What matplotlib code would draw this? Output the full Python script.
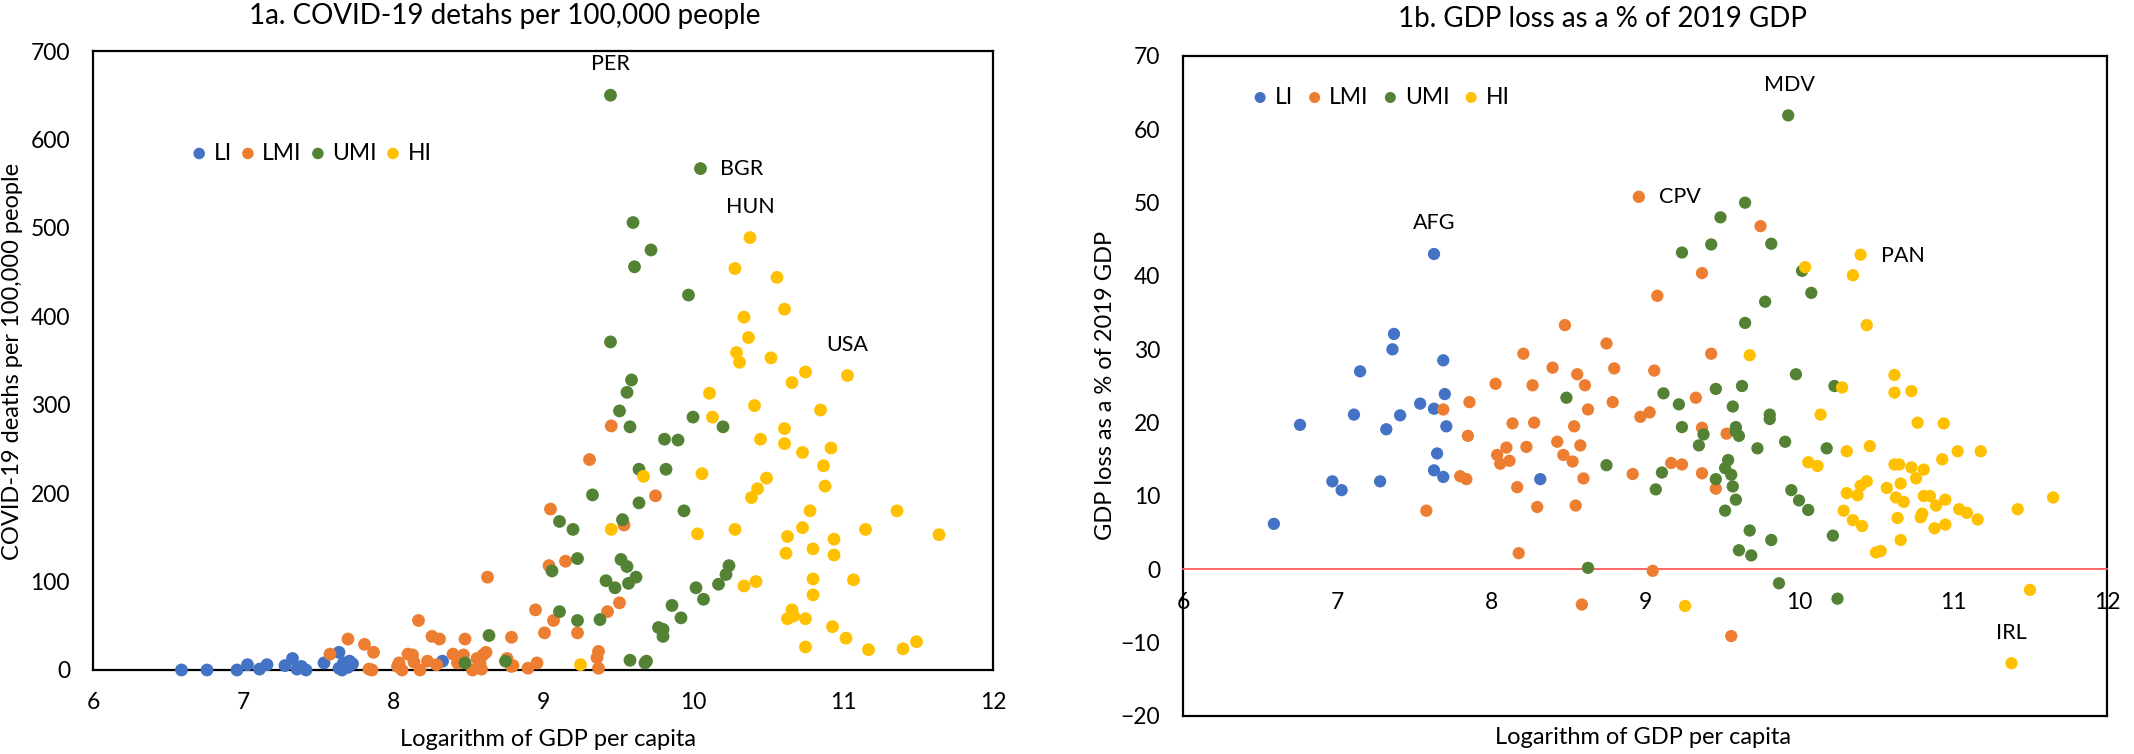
import matplotlib
matplotlib.use("Agg")
import matplotlib.pyplot as plt

plt.rcParams['font.family'] = ['Lato', 'DejaVu Sans']

# ---- 1a: COVID-19 deaths per 100,000 people vs log GDP per capita ----
a_li_x = [6.59, 6.76, 6.96, 7.03, 7.11, 7.16, 7.28, 7.33, 7.36, 7.39, 7.42, 7.54, 7.64, 7.64, 7.66, 7.67, 7.70, 7.71, 7.73, 8.33]
a_li_y = [0, 0, 0, 6, 1, 6, 5, 13, 1, 4, 0, 8, 20, 2, 0, 8, 3, 10, 7, 10]

a_lmi_x = [7.58, 7.70, 7.81, 7.84, 7.86, 7.87, 8.03, 8.04, 8.06, 8.10, 8.13, 8.14, 8.17, 8.18, 8.23, 8.26, 8.29, 8.31,
           8.40, 8.43, 8.47, 8.48, 8.53, 8.56, 8.58, 8.59, 8.60, 8.62, 8.63, 8.76, 8.79, 8.80, 8.79, 8.90, 8.96, 8.95,
           9.01, 9.04, 9.05, 9.07, 9.15, 9.23, 9.31, 9.36, 9.37, 9.37, 9.43, 9.455, 9.51, 9.54, 9.75]
a_lmi_y = [18, 35, 29, 1, 0, 20, 4, 8, 0, 18, 17, 9, 56, 0, 10, 38, 6, 35,
           18, 8, 17, 35, 0, 13, 8, 1, 17, 20, 105, 13, 37, 5, 4, 2, 8, 68,
           42, 118, 182, 56, 123, 42, 238, 14, 21, 2, 66, 276, 76, 164, 197]

a_umi_x = [8.48, 8.64, 8.75, 9.06, 9.11, 9.11, 9.20, 9.23, 9.23, 9.33, 9.38, 9.42, 9.45, 9.45, 9.48, 9.51, 9.52, 9.53,
           9.56, 9.56, 9.57, 9.58, 9.58, 9.59, 9.60, 9.61, 9.62, 9.64, 9.64, 9.68, 9.69, 9.72, 9.77, 9.80, 9.80, 9.81,
           9.82, 9.86, 9.90, 9.92, 9.94, 9.97, 10.00, 10.02, 10.05, 10.07, 10.17, 10.20, 10.22, 10.24]
a_umi_y = [8, 39, 10, 112, 168, 66, 159, 126, 56, 198, 57, 101, 650, 371, 93, 293, 125, 170,
           314, 117, 98, 275, 11, 328, 506, 456, 105, 227, 189, 8, 10, 475, 48, 46, 38, 261,
           227, 73, 260, 59, 180, 424, 286, 93, 567, 80, 97, 275, 108, 118]

a_hi_x = [9.25, 9.455, 9.67, 10.03, 10.06, 10.11, 10.13, 10.28, 10.28, 10.29, 10.31, 10.34, 10.34, 10.37, 10.38,
          10.39, 10.41, 10.42, 10.43, 10.45, 10.49, 10.52, 10.56, 10.61, 10.61, 10.61, 10.62, 10.63, 10.63, 10.66,
          10.66, 10.67, 10.73, 10.73, 10.75, 10.75, 10.75, 10.78, 10.80, 10.80, 10.80, 10.85, 10.87, 10.88, 10.92,
          10.93, 10.94, 10.94, 11.02, 11.03, 11.07, 11.15, 11.17, 11.36, 11.40, 11.49, 11.64]
a_hi_y = [6, 159, 219, 154, 222, 313, 286, 159, 454, 359, 348, 95, 399, 376, 489,
          195, 299, 100, 205, 261, 217, 353, 444, 408, 273, 256, 132, 151, 58, 325,
          68, 61, 246, 161, 337, 58, 26, 180, 137, 103, 85, 294, 231, 208, 251,
          49, 148, 130, 36, 333, 102, 159, 23, 180, 24, 32, 153]

a_labels = ["PER", "BGR", "HUN", "USA"]
a_label_x = [9.45, 10.18, 10.38, 11.03]
a_label_y = [685, 567, 524, 368]
a_label_ha = ["center", "left", "center", "center"]

# ---- 1b: GDP loss as a % of 2019 GDP vs log GDP per capita ----
b_li_x = [6.59, 6.76, 6.97, 7.03, 7.11, 7.15, 7.28, 7.32, 7.36, 7.37, 7.41, 7.54, 7.63, 7.63, 7.70, 7.71, 7.65,
          7.63, 7.69, 7.69, 8.32]
b_li_y = [6.2, 19.7, 12.0, 10.8, 21.1, 27.0, 12.0, 19.1, 30.0, 32.1, 21.0, 22.6, 21.9, 43.0, 23.9, 19.5, 15.8,
          13.5, 12.6, 28.5, 12.3]

b_lmi_x = [7.58, 7.69, 7.80, 7.84, 7.86, 7.85, 8.03, 8.04, 8.06, 8.10, 8.12, 8.14, 8.17, 8.18, 8.21, 8.23, 8.27,
           8.28, 8.30, 8.40, 8.43, 8.47, 8.48, 8.53, 8.54, 8.56, 8.58, 8.60, 8.55, 8.59, 8.61, 8.63, 8.75, 8.79,
           8.80, 8.92, 8.96, 8.97, 9.03, 9.05, 9.06, 9.08, 9.17, 9.24, 9.33, 9.37, 9.37, 9.37, 9.43, 9.46, 9.53,
           9.56, 9.75]
b_lmi_y = [8.0, 21.8, 12.7, 12.3, 22.8, 18.2, 25.3, 15.6, 14.4, 16.6, 14.8, 19.9, 11.2, 2.2, 29.4, 16.7, 25.1,
           20.0, 8.5, 27.5, 17.4, 15.6, 33.3, 14.7, 19.5, 26.6, 16.9, 12.4, 8.7, -4.8, 25.1, 21.8, 30.8, 22.8,
           27.4, 13.0, 50.8, 20.8, 21.4, -0.2, 27.1, 37.3, 14.5, 14.3, 23.4, 40.4, 19.3, 13.1, 29.4, 11.0, 18.5,
           -9.1, 46.8]

b_umi_x = [8.49, 8.63, 8.75, 9.07, 9.11, 9.12, 9.22, 9.24, 9.24, 9.35, 9.38, 9.43, 9.46, 9.46, 9.49, 9.52, 9.52,
           9.54, 9.56, 9.57, 9.57, 9.59, 9.59, 9.59, 9.61, 9.61, 9.63, 9.65, 9.65, 9.68, 9.69, 9.73, 9.78, 9.81,
           9.81, 9.82, 9.82, 9.87, 9.91, 9.93, 9.95, 9.98, 10.00, 10.02, 10.06, 10.08, 10.18, 10.22, 10.23, 10.25]
b_umi_y = [23.4, 0.2, 14.2, 10.9, 13.2, 24.0, 22.5, 19.4, 43.2, 16.9, 18.4, 44.3, 24.6, 12.3, 48.0, 13.8, 8.0,
           14.9, 12.9, 11.3, 22.2, 19.4, 18.8, 9.5, 18.2, 2.6, 25.0, 50.0, 33.6, 5.3, 1.9, 16.5, 36.5, 21.1,
           20.5, 44.4, 4.0, -1.9, 17.4, 61.9, 10.8, 26.6, 9.4, 40.7, 8.1, 37.7, 16.5, 4.6, 25.0, -4.0]

b_hi_x = [9.26, 9.68, 10.04, 10.06, 10.12, 10.14, 10.28, 10.29, 10.31, 10.31, 10.35, 10.35, 10.38, 10.40, 10.40,
          10.41, 10.44, 10.44, 10.46, 10.50, 10.53, 10.57, 10.62, 10.62, 10.62, 10.63, 10.64, 10.65, 10.66, 10.66,
          10.68, 10.73, 10.73, 10.76, 10.77, 10.79, 10.80, 10.81, 10.81, 10.85, 10.88, 10.89, 10.93, 10.94, 10.95,
          10.95, 11.03, 11.04, 11.09, 11.16, 11.18, 11.38, 11.42, 11.50, 11.65]
b_hi_y = [-5.0, 29.2, 41.2, 14.6, 14.1, 21.1, 24.8, 8.0, 16.1, 10.4, 40.1, 6.7, 10.1, 42.9, 11.4,
          5.9, 33.3, 12.0, 16.8, 2.3, 2.5, 11.1, 26.5, 24.1, 14.3, 9.8, 7.0, 14.3, 11.7, 4.0,
          9.2, 24.3, 13.9, 12.4, 20.0, 7.1, 7.6, 13.6, 10.0, 10.0, 5.6, 8.7, 15.0, 19.9, 9.5,
          6.1, 16.1, 8.2, 7.7, 6.8, 16.1, -12.8, 8.2, -2.8, 9.8]

b_labels = ["AFG", "CPV", "MDV", "PAN", "IRL"]
b_label_x = [7.63, 9.09, 9.94, 10.53, 11.38]
b_label_y = [47.2, 50.8, 66.0, 42.7, -8.7]
b_label_ha = ["center", "left", "center", "left", "center"]

groups = ["LI", "LMI", "UMI", "HI"]
colores = ["#4472C4", "#ED7D31", "#548235", "#FFC000"]

W, H = 2134, 754
fig = plt.figure(figsize=(W / 100, H / 100), dpi=100)

# ejes colocados en pixeles del original
ax1 = fig.add_axes([93 / W, 1 - 670 / H, 900 / W, 619 / H])
ax2 = fig.add_axes([1183 / W, 1 - 716 / H, 924 / W, 660 / H])

TICK = 16.5
LAB = 17
ANOT = 15.5
LEG = 16.5
TIT = 20


def leyenda(ax, x_px, y_px, espacio):
    # leyenda horizontal sin marco, anclada por su borde izquierdo
    ax.legend(loc='center left', bbox_to_anchor=(x_px / W, 1 - y_px / H), bbox_transform=fig.transFigure,
              ncol=4, frameon=False, fontsize=LEG, markerscale=0.9, handlelength=0.8,
              handletextpad=0.23, columnspacing=espacio, borderpad=0, borderaxespad=0)


def marco(ax):
    for sp in ax.spines.values():
        sp.set_linewidth(1.6)
        sp.set_color('black')


# --- panel izquierdo ---
serie_a = [(a_li_x, a_li_y), (a_lmi_x, a_lmi_y), (a_umi_x, a_umi_y), (a_hi_x, a_hi_y)]
for (xs, ys), nombre, c in zip(serie_a, groups, colores):
    ax1.scatter(xs, ys, s=85, color=c, edgecolors='none', label=nombre, zorder=3, clip_on=False)

ax1.set_xlim(6, 12)
ax1.set_ylim(0, 700)
ax1.set_xticks(range(6, 13))
ax1.set_yticks(range(0, 701, 100))
ax1.tick_params(length=0, labelsize=TICK)
ax1.tick_params(axis='x', pad=16)
ax1.tick_params(axis='y', pad=16.5)
marco(ax1)
fig.text(548 / W, 1 - 739 / H, "Logarithm of GDP per capita", fontsize=LAB, ha='center', va='center')
fig.text(13 / W, 1 - 361 / H, "COVID-19 deaths per 100,000 people", fontsize=LAB, ha='center', va='center',
         rotation=90)
for t, x, y, ha in zip(a_labels, a_label_x, a_label_y, a_label_ha):
    ax1.text(x, y, t, fontsize=ANOT, ha=ha, va='center')
leyenda(ax1, 190, 153, 0.3)

# --- panel derecho ---
serie_b = [(b_li_x, b_li_y), (b_lmi_x, b_lmi_y), (b_umi_x, b_umi_y), (b_hi_x, b_hi_y)]
for (xs, ys), nombre, c in zip(serie_b, groups, colores):
    ax2.scatter(xs, ys, s=78, color=c, edgecolors='none', label=nombre, zorder=3)

ax2.set_xlim(6, 12)
ax2.set_ylim(-20, 70)
ax2.set_xticks(range(6, 13))
ax2.set_yticks(range(-20, 71, 10))
ax2.tick_params(length=0, labelsize=TICK)
ax2.tick_params(axis='x', pad=16)
ax2.tick_params(axis='y', pad=16.5)
marco(ax2)
# eje x cruzando en cero, en rojo; el marco inferior queda en -20
ax2.spines['bottom'].set_position(('data', 0))
ax2.spines['bottom'].set_color('#FF5B5B')
ax2.spines['bottom'].set_linewidth(1.3)
ax2.axhline(-20, color='black', lw=1.6, zorder=4, clip_on=False)
fig.text(1106 / W, 1 - 385 / H, "GDP loss as a % of 2019 GDP", fontsize=LAB, ha='center', va='center',
         rotation=90)
fig.text(1643 / W, 1 - 737 / H, "Logarithm of GDP per capita", fontsize=LAB, ha='center', va='center')
for t, x, y, ha in zip(b_labels, b_label_x, b_label_y, b_label_ha):
    ax2.text(x, y, t, fontsize=ANOT, ha=ha, va='center')
leyenda(ax2, 1251, 97, 0.55)

# titulos
fig.text(505 / W, 1 - 16 / H, "1a. COVID-19 detahs per 100,000 people", fontsize=TIT, ha='center', va='center')
fig.text(1603 / W, 1 - 19 / H, "1b. GDP loss as a % of 2019 GDP", fontsize=TIT, ha='center', va='center')

fig.savefig("out.png", dpi=100)
